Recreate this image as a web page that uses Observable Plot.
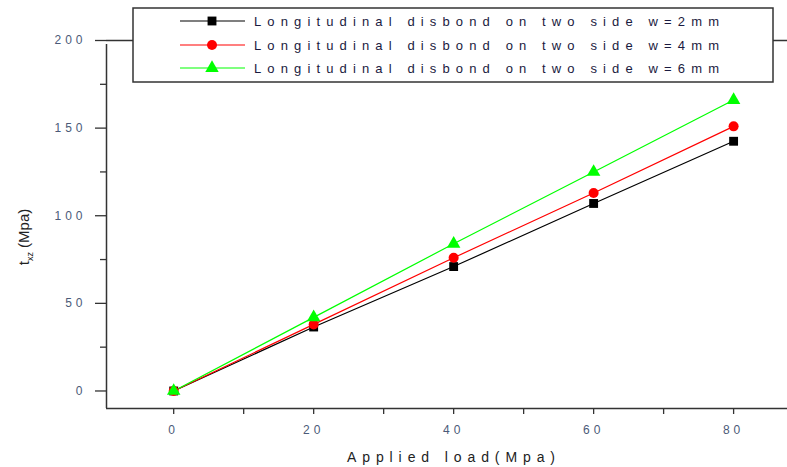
<!DOCTYPE html>
<html>
<head>
<meta charset="utf-8">
<script src="https://cdn.jsdelivr.net/npm/d3@7"></script>
<script src="https://cdn.jsdelivr.net/npm/@observablehq/plot@0.6"></script>
<style>
  html, body { margin: 0; padding: 0; background: #fff; }
  #chart { width: 787px; height: 467px; }
</style>
</head>
<body>
<div id="chart"></div>
<script>
const loads = [0, 20, 40, 60, 80];
const w2 = [0, 36.5, 71, 107, 142.5];
const w4 = [0, 38, 76, 113, 151];
const w6 = [0, 42, 84, 125, 166];
const seriesNames = [
  "Longitudinal disbond on two side w=2mm",
  "Longitudinal disbond on two side w=4mm",
  "Longitudinal disbond on two side w=6mm"
];
const seriesColors = ["#000000", "#ff0000", "#00ff00"];
const seriesSymbols = ["square", "circle", "triangle"];
const yMajor = [0, 50, 100, 150, 200];
const yMinor = [25, 75, 125, 175];
const xMajor = [0, 20, 40, 60, 80];
const xMinor = [10, 30, 50, 70];
const xTitle = "Applied load(Mpa)";

const seriesValues = [w2, w4, w6];
const data = [];
seriesNames.forEach((name, i) => {
  loads.forEach((x, j) => data.push({series: name, load: x, value: seriesValues[i][j]}));
});

const xDom = [-9.6, 87.7];
const yDom = [-10, 200];
const axisColor = "#333";

const chart = Plot.plot({
  width: 787,
  height: 467,
  marginLeft: 106,
  marginRight: 0,
  marginTop: 40,
  marginBottom: 59,
  style: {fontFamily: "'Liberation Sans', Arial, sans-serif", fontSize: "12px", background: "#fff", overflow: "visible"},
  x: {domain: xDom},
  y: {domain: yDom},
  color: {domain: seriesNames, range: seriesColors},
  symbol: {domain: seriesNames, range: seriesSymbols},
  marks: [
    Plot.ruleY([yDom[1]], {stroke: axisColor, strokeWidth: 1.5}),
    Plot.ruleY([yDom[0]], {stroke: axisColor, strokeWidth: 1.5}),
    Plot.ruleX([xDom[0]], {stroke: axisColor, strokeWidth: 1.5, y1: yDom[0], y2: yDom[1], insetBottom: -4}),
    Plot.axisY({ticks: yMajor, tickSize: 11, tickPadding: 9, label: null, stroke: axisColor, strokeWidth: 1.3, fill: "#4b5a78"}),
    Plot.axisY({ticks: yMinor, tickSize: 6, tickFormat: () => "", label: null, stroke: axisColor, strokeWidth: 1.3}),
    Plot.axisX({ticks: xMajor, tickSize: 6, tickPadding: 11, label: null, stroke: axisColor, strokeWidth: 1.3, fill: "#4b5a78"}),
    Plot.axisX({ticks: xMinor, tickSize: 6, tickFormat: () => "", label: null, stroke: axisColor, strokeWidth: 1.3}),
    Plot.line(data, {x: "load", y: "value", z: "series", stroke: "series", strokeWidth: 1.2}),
    Plot.dot(data, {x: "load", y: "value", symbol: "series", fill: "series", stroke: "none", r: 5})
  ]
});

document.getElementById("chart").appendChild(chart);

const svg = d3.select(chart);
svg.selectAll("g[aria-label='y-axis tick label'] text, g[aria-label='x-axis tick label'] text")
  .style("letter-spacing", "4px");

// Axis titles
svg.append("text")
  .attr("x", 451).attr("y", 462)
  .attr("text-anchor", "middle")
  .attr("textLength", 208).attr("lengthAdjust", "spacing")
  .style("font-size", "14px").style("fill", "#222")
  .text(xTitle);

const yt = svg.append("text")
  .attr("transform", "translate(29,237) rotate(-90)")
  .attr("text-anchor", "middle")
  .style("font-size", "15px").style("fill", "#222");
yt.append("tspan").text("t");
yt.append("tspan").attr("dy", 4).style("font-size", "9px").text("xz");
yt.append("tspan").attr("dy", -4).text(" (Mpa)");

// Legend
const lg = svg.append("g").attr("text-anchor", "start");
lg.append("rect")
  .attr("x", 133).attr("y", 8).attr("width", 640).attr("height", 74)
  .attr("fill", "#fff").attr("stroke", axisColor).attr("stroke-width", 1.5);
const rowY = [21, 45, 68];
const sym = {square: d3.symbolSquare, circle: d3.symbolCircle, triangle: d3.symbolTriangle};
seriesNames.forEach((name, i) => {
  const g = lg.append("g").attr("transform", `translate(0,${rowY[i]})`);
  g.append("line").attr("x1", 180).attr("x2", 245).attr("y1", 0).attr("y2", 0)
    .attr("stroke", seriesColors[i]).attr("stroke-width", 1.2);
  g.append("path").attr("transform", "translate(212,0)")
    .attr("d", d3.symbol(sym[seriesSymbols[i]], Math.PI * 25)())
    .attr("fill", seriesColors[i]);
  g.append("text").attr("x", 254).attr("y", 5)
    .attr("text-anchor", "start")
    .attr("textLength", 465).attr("lengthAdjust", "spacing")
    .style("font-size", "13px").style("fill", "#1a1a40")
    .text(name);
});
</script>
</body>
</html>
